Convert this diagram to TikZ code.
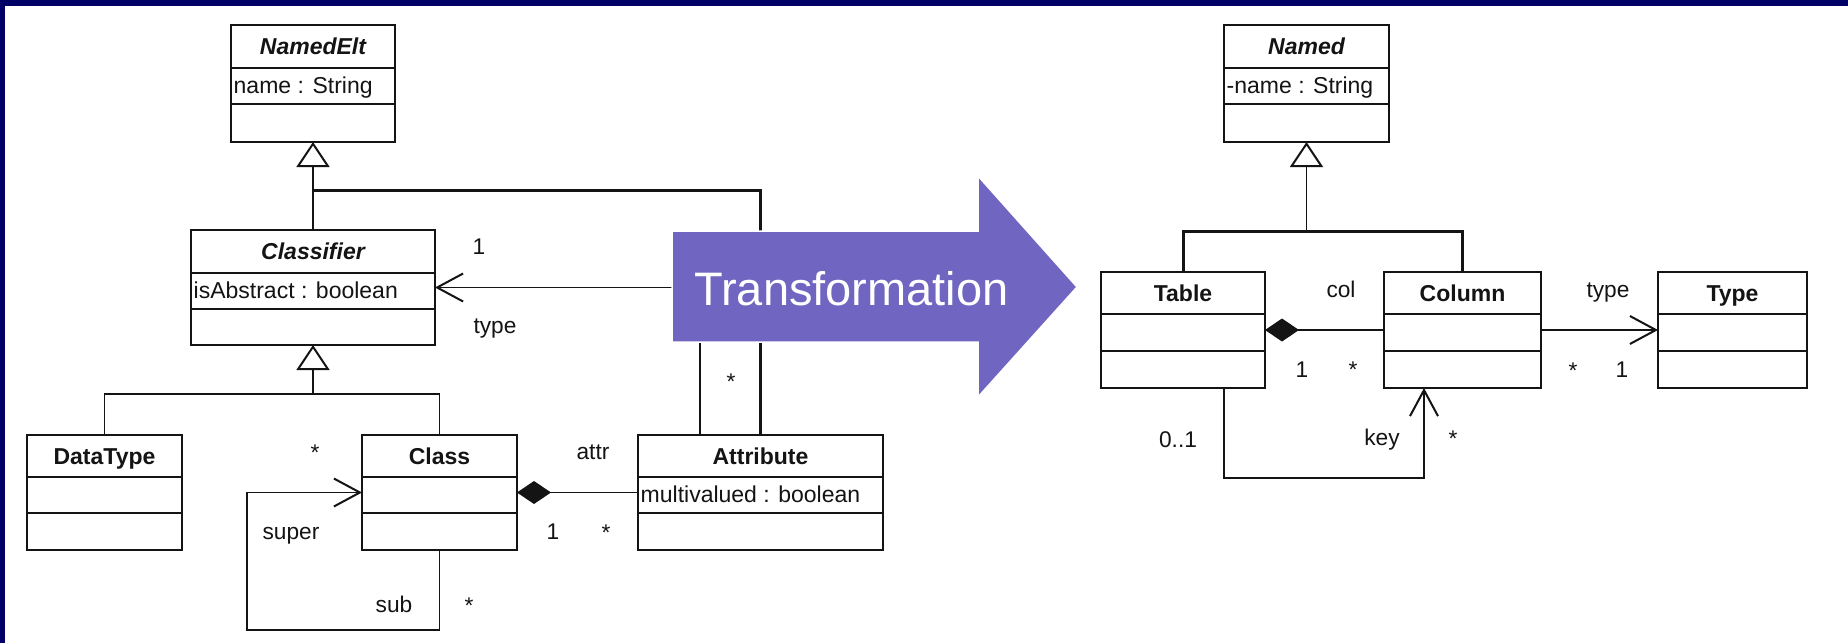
\documentclass[tikz,border=0pt]{standalone}
\usepackage{fontspec}
\setmainfont{Liberation Sans}
\usetikzlibrary{arrows.meta,calc}

\definecolor{frameblue}{RGB}{0,0,102}
\definecolor{arrowviolet}{RGB}{112,101,192}
\definecolor{ink}{RGB}{20,20,20}

\tikzset{
  umlbox/.style={draw=ink, line width=2pt, anchor=north west, inner sep=0pt, outer sep=0pt},
  sepline/.style={draw=ink, line width=2pt},
  umltitle/.style={inner sep=0pt, anchor=base, text=ink, font=\fontsize{23pt}{27pt}\selectfont\bfseries},
  umlattr/.style={inner sep=0pt, anchor=base west, text=ink, font=\fontsize{23pt}{27pt}\selectfont},
  lbl/.style={inner sep=0pt, anchor=base, text=ink, font=\fontsize{22.7pt}{27pt}\selectfont},
  conn/.style={draw=ink, line width=1.8pt},
  thickconn/.style={draw=ink, line width=3pt},
  gen/.style={conn, -{Triangle[open, length=25pt, width=33pt, line width=2pt]}},
  nav/.style={conn, -{Straight Barb[length=26pt, width=28pt, line width=2pt]}},
  comp/.style={conn, {Diamond[length=34pt, width=23pt]}-},
}

% #1 name, #2 left, #3 top, #4 right, #5 bottom, #6/#7 compartment lines,
% #8 title, #9 attribute text
\newcommand\umlclass[9]{%
  \node[umlbox, minimum width={(#4-#2)*1pt}, minimum height={(#5-#3)*1pt}] (#1) at (#2,#3) {};
  \draw[sepline] (#2,#6) -- (#4,#6) (#2,#7) -- (#4,#7);
  \node[umltitle] (#1-t) at ({(#2+#4)/2},{#3+29}) {#8};
  \node[umlattr] (#1-a) at ({#2+2.5},{#6+25}) {#9};
}

\begin{document}
\begin{tikzpicture}[x=1pt, y=-1pt]
  % page and frame
  \fill[white] (0,0) rectangle (1848,643);
  \useasboundingbox (0,0) rectangle (1848,643);
  \fill[frameblue] (0,0) rectangle (1848,6);
  \fill[frameblue] (0,0) rectangle (5,643);

  % ---------- source metamodel ----------
  \umlclass{NamedElt}{231}{25}{395}{142}{68}{104}{\itshape NamedElt}{name : String}
  \umlclass{Classifier}{191}{230}{435}{345}{273}{309}{\itshape Classifier}{isAbstract : boolean}
  \umlclass{DataType}{27}{435}{182}{550}{477}{513}{DataType}{}
  \umlclass{Class}{362}{435}{517}{550}{477}{513}{Class}{}
  \umlclass{Attribute}{638}{435}{883}{550}{477}{513}{Attribute}{multivalued : boolean}

  % generalizations
  \coordinate (j1) at (313,190);
  \coordinate (j2) at (313,394);
  \draw[gen] (Classifier.north) -- (NamedElt.south);
  \draw[thickconn] (j1) -| (Attribute.north);
  \draw[gen] (j2) -- (Classifier.south);
  \draw[conn] (DataType.north) |- (j2) -| (Class.north);

  % associations
  \draw[nav] ([xshift=62pt]Attribute.north west) |- (Classifier.east);
  \draw[comp] (Class.east) -- (Attribute.west);
  \coordinate (loop) at (247,630);
  \draw[nav] (Class.south) |- (loop) |- (Class.west);

  \node[lbl] (m1) at (479,254) {1};
  \node[lbl] (r1) at (495,333) {type};
  \node[lbl] (m2) at (731,389) {*};
  \node[lbl] (r2) at (593,459) {attr};
  \node[lbl] (m3) at (553,539) {1};
  \node[lbl] (m4) at (606,540) {*};
  \node[lbl] (m5) at (315,460) {*};
  \node[lbl] (r3) at (291,539) {super};
  \node[lbl] (r4) at (394,612) {sub};
  \node[lbl] (m6) at (469,613) {*};

  % ---------- target metamodel ----------
  \umlclass{Named}{1224}{25}{1389}{142}{68}{104}{\itshape Named}{-name : String}
  \umlclass{Table}{1101}{272}{1265}{388}{314}{351}{Table}{}
  \umlclass{Column}{1384}{272}{1541}{388}{314}{351}{Column}{}
  \umlclass{Type}{1658}{272}{1807}{388}{314}{351}{Type}{}

  \coordinate (j3) at (1306.5,231);
  \draw[gen] (j3) -- (Named.south);
  \draw[thickconn] (Table.north) |- (j3) -| (Column.north);

  \draw[comp] (Table.east) -- (Column.west);
  \draw[nav] (Column.east) -- (Type.west);
  \coordinate (keybend) at (1224,478);
  \draw[nav] ([xshift=123pt]Table.south west) |- (keybend) -| ([xshift=40pt]Column.south west);

  \node[lbl] (r5) at (1341,297) {col};
  \node[lbl] (m7) at (1302,377) {1};
  \node[lbl] (m8) at (1353,377) {*};
  \node[lbl] (r6) at (1608,297) {type};
  \node[lbl] (m9) at (1573,378) {*};
  \node[lbl] (m10) at (1622,377) {1};
  \node[lbl] (m11) at (1178,447) {0..1};
  \node[lbl] (r7) at (1382,445) {key};
  \node[lbl] (m12) at (1453,446) {*};

  % ---------- transformation arrow ----------
  \filldraw[fill=arrowviolet, draw=white, line width=1.5pt]
    (672,231) -- (978,231) -- (978,176) -- (1077,287) -- (978,397)
    -- (978,342) -- (672,342) -- cycle;
  \node[inner sep=0pt, anchor=base, text=white,
        font=\fontsize{47pt}{56pt}\selectfont] (trans) at (851.5,305) {Transformation};
\end{tikzpicture}
\end{document}
